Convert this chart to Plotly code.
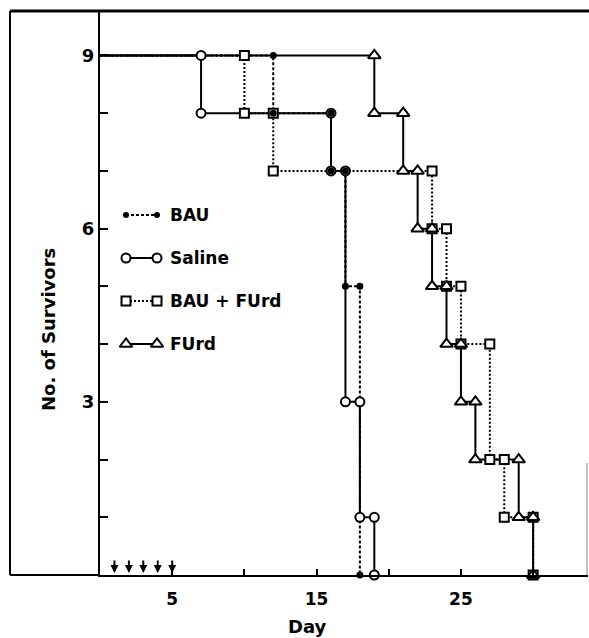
import plotly.graph_objects as go

# ---------------- data ----------------
start_n = 9
bau_days = [12, 16, 17, 18]
bau_n = [8, 7, 5, 0]
saline_days = [7, 16, 17, 18, 19]
saline_n = [8, 7, 3, 1, 0]
baufurd_days = [10, 12, 23, 24, 25, 27, 28, 30]
baufurd_n = [8, 7, 6, 5, 4, 2, 1, 0]
furd_days = [19, 21, 22, 23, 24, 25, 26, 29, 30]
furd_n = [8, 7, 6, 5, 4, 3, 2, 1, 0]
treatment_days = [1, 2, 3, 4, 5]

x_tick_vals = [5, 10, 15, 20, 25, 30]
x_tick_text = ["5", "", "15", "", "25", ""]
y_tick_vals = [1, 2, 3, 4, 5, 6, 7, 8, 9]
y_tick_text = ["", "", "3", "", "", "6", "", "", "9"]

series_names = ["BAU", "Saline", "BAU + FUrd", "FUrd"]

FONT = "DejaVu Sans, Liberation Sans, sans-serif"
W, H = 589, 638
L, R, T, B = 100, 1, 11, 63
plot_w = W - L - R
plot_h = H - T - B


def steps(days, counts, start):
    xs, ys = [0], [start]
    prev = start
    for d, n in zip(days, counts):
        xs += [d, d]
        ys += [prev, n]
        prev = n
    return xs, ys


styles = {
    "BAU": dict(dash="3px,2px", symbol="circle", fill="black", size=7),
    "Saline": dict(dash="solid", symbol="circle", fill="white", size=9),
    "BAU + FUrd": dict(dash="2px,2px", symbol="square", fill="white", size=9),
    "FUrd": dict(dash="solid", symbol="triangle-up", fill="white", size=11),
}
data = {
    "BAU": (bau_days, bau_n),
    "Saline": (saline_days, saline_n),
    "BAU + FUrd": (baufurd_days, baufurd_n),
    "FUrd": (furd_days, furd_n),
}


def marker_dict(st, size):
    return dict(symbol=st["symbol"], size=size, color=st["fill"],
                line=dict(color="black", width=2 if st["fill"] == "white" else 0))


fig = go.Figure()
# lines first
for name in ["FUrd", "BAU + FUrd", "Saline", "BAU"]:
    st = styles[name]
    xs, ys = steps(*data[name], start_n)
    fig.add_trace(go.Scatter(
        x=xs, y=ys, mode="lines", name=name, showlegend=False,
        line=dict(color="black", width=2, dash=st["dash"]), cliponaxis=False,
    ))
# markers on top of every line
for name in ["BAU + FUrd", "FUrd", "Saline", "BAU"]:
    st = styles[name]
    xs, ys = steps(*data[name], start_n)
    fig.add_trace(go.Scatter(
        x=xs[1:], y=ys[1:], mode="markers", name=name, showlegend=False,
        marker=marker_dict(st, st["size"]), cliponaxis=False,
    ))

# custom legend on an overlay axis (0..1)
leg_rows_px = [215, 258, 301, 344]
for name, ypx in zip(series_names, leg_rows_px):
    st = styles[name]
    yy = (H - B - ypx) / plot_h
    x0 = (126 - L) / plot_w
    x1 = (157 - L) / plot_w
    fig.add_trace(go.Scatter(
        x=[x0, x1], y=[yy, yy], xaxis="x2", yaxis="y2", mode="lines",
        showlegend=False, hoverinfo="skip",
        line=dict(color="black", width=2, dash=st["dash"]),
    ))
    fig.add_trace(go.Scatter(
        x=[x0, x1], y=[yy, yy], xaxis="x2", yaxis="y2", mode="markers",
        showlegend=False, hoverinfo="skip",
        marker=marker_dict(st, st["size"] - (1 if name == "BAU" else 0)),
    ))
    fig.add_annotation(xref="paper", yref="paper", x=(168 - L) / plot_w, y=yy,
                       text=name, showarrow=False, xanchor="left", yanchor="middle",
                       font=dict(family=FONT, size=17, color="black", weight="bold"))

# treatment arrows
for d in treatment_days:
    fig.add_annotation(x=d, y=0, ax=0, ay=-16, showarrow=True, arrowhead=2,
                       arrowsize=0.8, arrowwidth=2, arrowcolor="black", standoff=2,
                       text="")

# axis titles
fig.add_annotation(xref="paper", yref="paper", x=(48 - L) / plot_w,
                   y=(H - B - 330) / plot_h, text="No. of Survivors", textangle=-90,
                   showarrow=False, xanchor="center", yanchor="middle",
                   font=dict(family=FONT, size=18, color="black", weight="bold"))
fig.add_annotation(xref="paper", yref="paper", x=(307 - L) / plot_w,
                   y=(H - B - 626) / plot_h, text="Day",
                   showarrow=False, xanchor="center", yanchor="middle",
                   font=dict(family=FONT, size=18, color="black", weight="bold"))

# outer frame
fx0 = (10 - L) / plot_w
fig.add_shape(type="line", xref="paper", yref="paper", x0=fx0, x1=1.005, y0=1, y1=1,
              line=dict(color="black", width=3))
fig.add_shape(type="line", xref="paper", yref="paper", x0=fx0, x1=fx0, y0=0, y1=1,
              line=dict(color="black", width=2))
fig.add_shape(type="line", xref="paper", yref="paper", x0=fx0, x1=0, y0=0, y1=0,
              line=dict(color="black", width=2))
fig.add_shape(type="line", xref="paper", yref="paper", x0=0.998, x1=0.998, y0=0,
              y1=(H - B - 463) / plot_h, line=dict(color="#888", width=1))

fig.update_layout(
    width=W, height=H, margin=dict(l=L, r=R, t=T, b=B),
    paper_bgcolor="white", plot_bgcolor="white",
    font=dict(family=FONT, color="black"),
    xaxis=dict(range=[0, 33.8], tickvals=x_tick_vals, ticktext=x_tick_text,
               ticks="inside", ticklen=6, tickwidth=2, tickcolor="black",
               showline=True, linewidth=2, linecolor="black", showgrid=False,
               zeroline=False, ticklabelstandoff=8,
               tickfont=dict(family=FONT, size=17, color="black", weight="bold")),
    yaxis=dict(range=[0, 9.77], tickvals=y_tick_vals, ticktext=y_tick_text,
               ticks="inside", ticklen=8, tickwidth=2, tickcolor="black",
               showline=True, linewidth=2, linecolor="black", showgrid=False,
               zeroline=False, ticklabelstandoff=0,
               tickfont=dict(family=FONT, size=18, color="black", weight="bold")),
    xaxis2=dict(range=[0, 1], overlaying="x", visible=False),
    yaxis2=dict(range=[0, 1], overlaying="y", visible=False),
)

fig.write_html("out.html", config={"displayModeBar": False},
               post_script="document.body.style.margin='0px';")
